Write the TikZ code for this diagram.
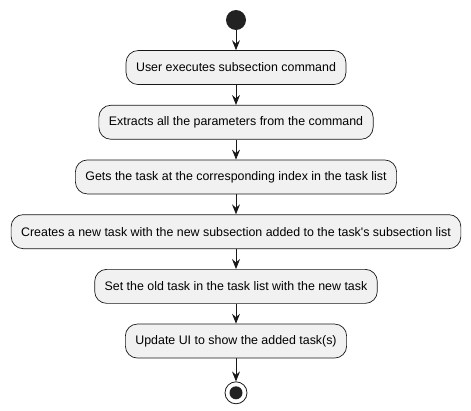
\documentclass[tikz,border=0pt]{standalone}
\usepackage{fontspec}
\setmainfont{Liberation Sans}
\usetikzlibrary{arrows.meta,positioning}
\definecolor{actfill}{HTML}{F1F1F1}
\definecolor{actline}{HTML}{181818}
\definecolor{dotfill}{HTML}{222222}
\tikzset{
    action/.style={rectangle,rounded corners=12pt,
        minimum height=34pt, inner xsep=10pt,
        draw=actline,line width=0.7pt,fill=actfill,
        font=\fontsize{12.4}{14}\selectfont},
    startdot/.style={circle,fill=dotfill,minimum size=20pt,inner sep=0pt},
    stopdot/.style={circle,draw=actline,line width=0.8pt,minimum size=22pt,inner sep=0pt,
        path picture={\fill[dotfill] (path picture bounding box.center) circle (6.5pt);}},
    arrow/.style={-{Stealth[length=10pt,width=8pt,inset=3.5pt]}, line width=0.8pt, draw=actline}
}
\begin{document}
\begin{tikzpicture}[node distance=20pt]
    \useasboundingbox (0,0) rectangle (471pt,-410pt);
    \node[startdot] (start) at (236pt,-20pt) {};
    \node[action] (user) [below=of start] {User executes subsection command};
    \node[action] (parse) [below=of user] {Extracts all the parameters from the command};
    \node[action] (get) [below=of parse] {Gets the task at the corresponding index in the task list};
    \node[action] (create) [below=of get] {Creates a new task with the new subsection added to the task\textquotesingle s subsection list};
    \node[action] (set) [below=of create] {Set the old task in the task list with the new task};
    \node[action] (ui) [below=of set] {Update UI to show the added task(s)};
    \node[stopdot] (stop) [below=23pt of ui] {};
    \path (start) edge [arrow] (user)
        (user) edge [arrow] (parse)
        (parse) edge [arrow] (get)
        (get) edge [arrow] (create)
        (create) edge [arrow] (set)
        (set) edge [arrow] (ui)
        (ui) edge [arrow] (stop);
\end{tikzpicture}
\end{document}
